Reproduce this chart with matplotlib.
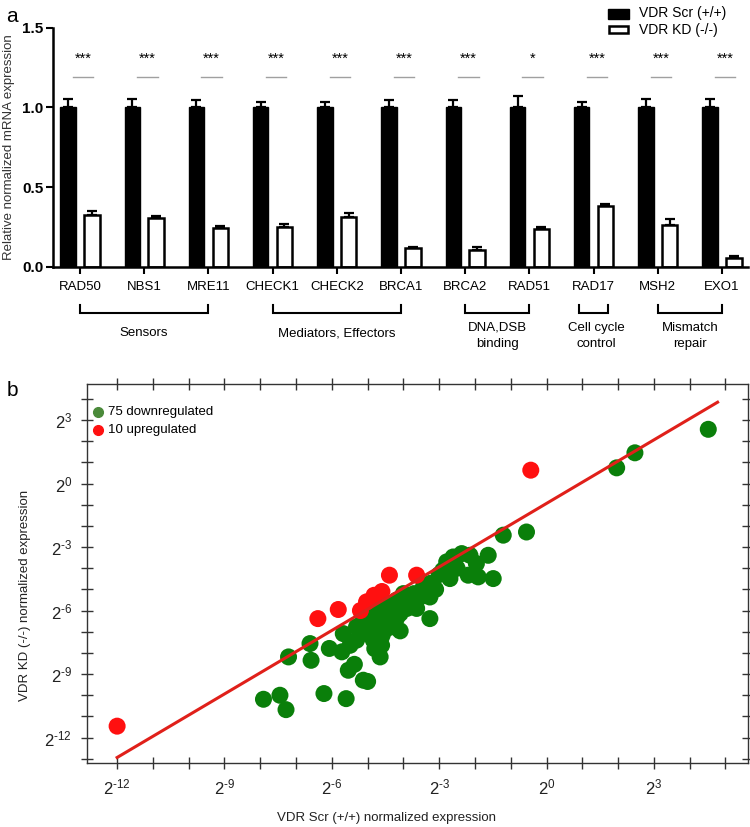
import matplotlib
matplotlib.use("Agg")
import matplotlib.pyplot as plt
import matplotlib.transforms as mtransforms
from matplotlib.patches import Rectangle
import numpy as np

plt.rcParams['font.family'] = ['Liberation Sans', 'DejaVu Sans']
plt.rcParams['mathtext.fontset'] = 'custom'
plt.rcParams['mathtext.rm'] = 'Liberation Sans'
plt.rcParams['mathtext.default'] = 'regular'

# ---------------- Panel a data ----------------
genes = ["RAD50", "NBS1", "MRE11", "CHECK1", "CHECK2", "BRCA1",
         "BRCA2", "RAD51", "RAD17", "MSH2", "EXO1"]
scr_values = [1.0, 1.0, 1.0, 1.0, 1.0, 1.0, 1.0, 1.0, 1.0, 1.0, 1.0]
scr_err = [0.055, 0.05, 0.045, 0.036, 0.035, 0.046, 0.046, 0.07, 0.035, 0.05, 0.05]
kd_values = [0.325, 0.304, 0.245, 0.251, 0.312, 0.119, 0.105, 0.239, 0.383, 0.26, 0.057]
kd_err = [0.025, 0.016, 0.010, 0.019, 0.023, 0.007, 0.021, 0.010, 0.009, 0.04, 0.008]
significance = ["***", "***", "***", "***", "***", "***", "***", "*", "***", "***", "***"]
group_names = ["Sensors", "Mediators, Effectors", "DNA,DSB\nbinding",
               "Cell cycle\ncontrol", "Mismatch\nrepair"]
group_start = [0, 3, 6, 7.78, 9]
group_end = [2, 5, 7, 8.22, 10]
group_label_x = [1, 4, 6.5, 8.04, 9.5]
series_names = ["VDR Scr (+/+)", "VDR KD (-/-)"]

# ---------------- Panel b data (log2 expression) ----------------
down_x = [-7.91, -7.45, -7.28, -7.21, -6.61, -6.58, -6.22, -6.07, -5.6, -5.68,
          -5.72, -5.49, -5.37, -5.54, -5.12, -5.0, -4.65, -4.61, -4.09, -5.31,
          -5.12, -4.93, -4.75, -4.56, -4.37, -4.47, -4.19, -4.0, -4.28, -4.84,
          -5.31, -4.75, -4.09, -1.21, -0.56, -2.79, -2.61, -2.37, -2.14, -1.63,
          -1.96, -2.70, -2.19, -1.91, -1.49, -3.26, -3.44, -3.26, -3.54, -3.82,
          -3.63, -3.26, -4.3, -4.65, 4.52, 2.47, 1.96, -4.9, -4.5, -4.2,
          -4.6, -5.0, -4.4, -3.9, -3.9, -4.6, -4.8, -4.7, -3.0, -2.9,
          -3.1, -4.2, -3.7, -5.2, -2.5]
down_y = [-10.19, -10.0, -10.68, -8.19, -7.56, -8.35, -9.92, -7.79, -10.16, -7.09,
          -7.95, -7.64, -8.54, -8.82, -9.29, -9.35, -8.19, -7.64, -6.96, -6.77,
          -6.46, -7.09, -6.61, -6.30, -5.98, -5.67, -5.51, -5.2, -6.77, -7.4,
          -7.4, -5.98, -6.14, -2.44, -2.29, -3.70, -3.47, -3.31, -3.39, -3.39,
          -3.78, -4.49, -4.33, -4.41, -4.49, -4.72, -4.88, -5.36, -5.36, -5.67,
          -5.90, -6.38, -5.75, -6.46, 2.56, 1.45, 0.74, -6.9, -6.9, -6.4,
          -7.2, -6.2, -6.2, -5.9, -5.4, -5.8, -7.8, -7.9, -4.3, -4.1,
          -5.0, -5.9, -5.2, -7.1, -4.0]
up_x = [-12.0, -6.39, -5.82, -5.2, -5.03, -4.82, -4.39, -3.63, -0.44, -4.6]
up_y = [-11.46, -6.38, -5.95, -6.0, -5.59, -5.28, -4.33, -4.33, 0.63, -5.1]
fit_slope = 1.0
fit_intercept = -0.94
fit_x_range = [-12.0, 4.78]
legend_labels = ["75 downregulated", "10 upregulated"]

W, H = 750, 827
fig = plt.figure(figsize=(W / 100, H / 100), dpi=100)


def fx(px):
    return px / W


def fy(py):
    return 1 - py / H


# ================= Panel a =================
ax = fig.add_axes([fx(53), fy(266.7), fx(748) - fx(53), fy(27.7) - fy(266.7)])
x = np.arange(len(genes))
bw = 0.24
off = 0.185
ax.bar(x - off, scr_values, width=bw, color="black", edgecolor="black", zorder=2)
ax.errorbar(x - off, scr_values, yerr=[np.zeros(len(genes)), scr_err], fmt="none",
            ecolor="black", elinewidth=1.6, capsize=3.5, capthick=1.6, zorder=1)
ax.bar(x + off, kd_values, width=bw, color="white", edgecolor="black", linewidth=1.8, zorder=2)
ax.errorbar(x + off, kd_values, yerr=[np.zeros(len(genes)), kd_err], fmt="none",
            ecolor="black", elinewidth=1.6, capsize=3.5, capthick=1.6, zorder=1)

for i, s in enumerate(significance):
    ax.text(i + 0.05, 1.305, s, ha="center", va="center", fontsize=10.5)
    ax.plot([i + 0.05 - 0.16, i + 0.05 + 0.16], [1.19, 1.19], color="#a0a0a0", lw=1.0)

ax.set_xlim(-0.42, 10.405)
ax.set_ylim(0, 1.5)
ax.set_yticks([0.0, 0.5, 1.0, 1.5])
ax.set_yticklabels(["0.0", "0.5", "1.0", "1.5"], fontsize=11, fontweight="bold")
ax.set_xticks(x)
ax.set_xticklabels(genes, fontsize=9.5)
ax.tick_params(axis="x", length=5, width=1.5, pad=5)
ax.tick_params(axis="y", length=5, width=1.5, pad=2)
for side in ["top", "right"]:
    ax.spines[side].set_visible(False)
for side in ["left", "bottom"]:
    ax.spines[side].set_linewidth(1.8)
fig.text(fx(9), fy(147), "Relative normalized mRNA expression", rotation=90,
         ha="center", va="center", fontsize=9.5, color="#333333")
fig.text(fx(12), fy(16), "a", ha="center", va="center", fontsize=15)

# brackets
btr = mtransforms.blended_transform_factory(ax.transData, fig.transFigure)
for s0, s1, name, lx in zip(group_start, group_end, group_names, group_label_x):
    ax.plot([s0, s0, s1, s1], [fy(305), fy(312.5), fy(312.5), fy(305)], transform=btr,
            color="black", lw=1.5, clip_on=False, solid_joinstyle="miter")
    ax.text(lx, fy(336) if "\n" in name else fy(333), name, transform=btr,
            ha="center", va="center", fontsize=9.5, linespacing=1.45)

# legend panel a
fig.add_artist(Rectangle((fx(608), fy(18.5)), fx(21), fy(9) - fy(18.5),
                         transform=fig.transFigure, facecolor="black", edgecolor="black"))
fig.add_artist(Rectangle((fx(609), fy(33)), fx(19), fy(25.5) - fy(33),
                         transform=fig.transFigure, facecolor="white", edgecolor="black", lw=1.8))
fig.text(fx(639), fy(13.5), series_names[0], ha="left", va="center", fontsize=10)
fig.text(fx(639), fy(30), series_names[1], ha="left", va="center", fontsize=10)

# ================= Panel b =================
bx = fig.add_axes([fx(86.7), fy(763), fx(748) - fx(86.7), fy(384) - fy(763)])
bx.set_xlim(-12.85, 5.63)
bx.set_ylim(-13.2, 4.7)
xf = np.array(fit_x_range)
bx.plot(xf, fit_slope * xf + fit_intercept, color="#e0201a", lw=2.2, zorder=3)
bx.scatter(down_x, down_y, s=150, color="#0a7f0a", edgecolors="none", zorder=2)
bx.scatter(up_x, up_y, s=150, color="#ff1010", edgecolors="none", zorder=2)

xt = np.arange(-12, 6)
yt = np.arange(-13, 5)
bx.set_xticks(xt)
bx.set_yticks(yt)


def pow_label(v):
    return r"$2^{\text{%d}}$" % v if v % 3 == 0 else ""


bx.set_xticklabels([pow_label(v) for v in xt], fontsize=12)
bx.set_yticklabels([pow_label(v) for v in yt], fontsize=12)
bx.tick_params(axis="x", bottom=True, top=True, direction="inout", length=9, width=1.0,
               color="#333333", pad=6)
bx.tick_params(axis="y", left=True, right=True, direction="inout", length=9, width=1.0,
               color="#333333", pad=6)
bx.tick_params(axis="x", which="major", labelcolor="#222222")
bx.tick_params(axis="y", which="major", labelcolor="#222222")
for side in bx.spines.values():
    side.set_linewidth(1.0)
    side.set_color("#333333")

fig.text(fx(25), fy(595), "VDR KD (-/-) normalized expression", rotation=90,
         ha="center", va="center", fontsize=9.5, color="#222222")
fig.text(fx(386), fy(818), "VDR Scr (+/+) normalized expression",
         ha="center", va="center", fontsize=9.5, color="#222222")
fig.text(fx(12), fy(390), "b", ha="center", va="center", fontsize=15)

# legend panel b
fig.add_artist(plt.Line2D([fx(98.3)], [fy(411.7)], marker="o", markersize=7,
                          color="#4a8a3a", linestyle="none", transform=fig.transFigure))
fig.add_artist(plt.Line2D([fx(98.3)], [fy(430)], marker="o", markersize=7,
                          color="#ff1010", linestyle="none", transform=fig.transFigure))
fig.text(fx(108), fy(411.7), legend_labels[0], ha="left", va="center", fontsize=9.5)
fig.text(fx(108), fy(430), legend_labels[1], ha="left", va="center", fontsize=9.5)

fig.savefig("out.png", dpi=100)
